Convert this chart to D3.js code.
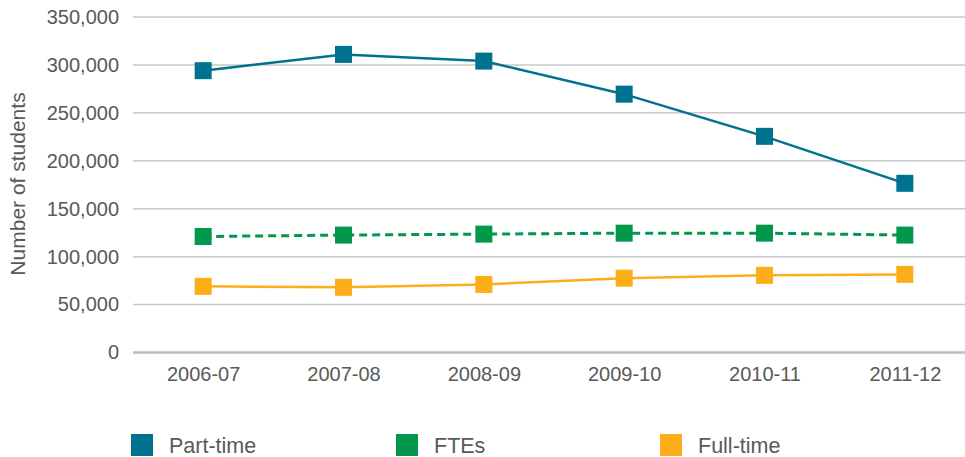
<!DOCTYPE html>
<html>
<head>
<meta charset="utf-8">
<script src="https://cdn.jsdelivr.net/npm/d3@7"></script>
<style>
  html, body { margin: 0; padding: 0; background: #fff; }
  svg { display: block; }
  text { font-family: "Liberation Sans", Arial, sans-serif; fill: #595959; }
</style>
</head>
<body>
<svg id="chart" width="965" height="457"></svg>
<script>
const categories = ["2006-07", "2007-08", "2008-09", "2009-10", "2010-11", "2011-12"];
const partTime = [294000, 311000, 304000, 269500, 225500, 176500];
const ftes = [121000, 122500, 123500, 124500, 124500, 122500];
const fullTime = [69000, 68000, 71000, 77500, 80500, 81500];
const yTicks = [0, 50000, 100000, 150000, 200000, 250000, 300000, 350000];
const seriesNames = ["Part-time", "FTEs", "Full-time"];
const seriesColors = ["#00718F", "#00994C", "#FDAD18"];

const series = [
  { name: seriesNames[0], values: partTime, color: seriesColors[0], dash: null },
  { name: seriesNames[1], values: ftes, color: seriesColors[1], dash: "8,5" },
  { name: seriesNames[2], values: fullTime, color: seriesColors[2], dash: null }
];

const svg = d3.select("#chart");
const x = d3.scalePoint().domain(categories).range([133, 975]).padding(0.5);
const y = d3.scaleLinear().domain([0, 350000]).range([352.5, 17]);

// gridlines
svg.append("g").selectAll("line").data(yTicks.filter(d => d > 0)).join("line")
  .attr("x1", 133).attr("x2", 965)
  .attr("y1", d => y(d)).attr("y2", d => y(d))
  .attr("stroke", "#c8c8c8").attr("stroke-width", 1.5);

// y axis labels
const yAxis = d3.axisLeft(y).tickValues(yTicks).tickSize(0).tickPadding(0)
  .tickFormat(d3.format(","));
const ya = svg.append("g").attr("transform", "translate(119,0)").call(yAxis);
ya.select(".domain").remove();
ya.selectAll("text").attr("font-size", 20).attr("fill", "#595959")
  .attr("font-family", "'Liberation Sans', Arial, sans-serif");

// x axis (baseline)
const xAxis = d3.axisBottom(x).tickSize(0).tickPadding(14);
const xa = svg.append("g").attr("transform", `translate(0,${y(0)})`).call(xAxis);
xa.select(".domain").remove();
xa.selectAll("text").attr("font-size", 20).attr("fill", "#595959")
  .attr("font-family", "'Liberation Sans', Arial, sans-serif");
svg.append("line").attr("x1", 133).attr("x2", 965)
  .attr("y1", y(0)).attr("y2", y(0))
  .attr("stroke", "#bdbdbd").attr("stroke-width", 2.5);

// y title
svg.append("text")
  .attr("transform", "translate(25,184) rotate(-90)")
  .attr("text-anchor", "middle").attr("font-size", 21)
  .text("Number of students");

// lines
const line = d3.line().x((d, i) => x(categories[i])).y(d => y(d));
series.forEach(s => {
  svg.append("path").datum(s.values)
    .attr("d", line).attr("fill", "none")
    .attr("stroke", s.color).attr("stroke-width", s.dash ? 3 : 2.5)
    .attr("stroke-dasharray", s.dash);
});
const ms = 17;
series.forEach(s => {
  svg.append("g").selectAll("rect").data(s.values).join("rect")
    .attr("x", (d, i) => x(categories[i]) - ms / 2)
    .attr("y", d => y(d) - ms / 2)
    .attr("width", ms).attr("height", ms)
    .attr("fill", s.color);
});

// legend
const legendX = [131, 396, 660];
const lg = svg.append("g");
series.forEach((s, i) => {
  lg.append("rect").attr("x", legendX[i]).attr("y", 434)
    .attr("width", 22).attr("height", 22).attr("fill", s.color);
  lg.append("text").attr("x", legendX[i] + 38).attr("y", 453)
    .attr("font-size", 21.5).text(s.name);
});
</script>
</body>
</html>
